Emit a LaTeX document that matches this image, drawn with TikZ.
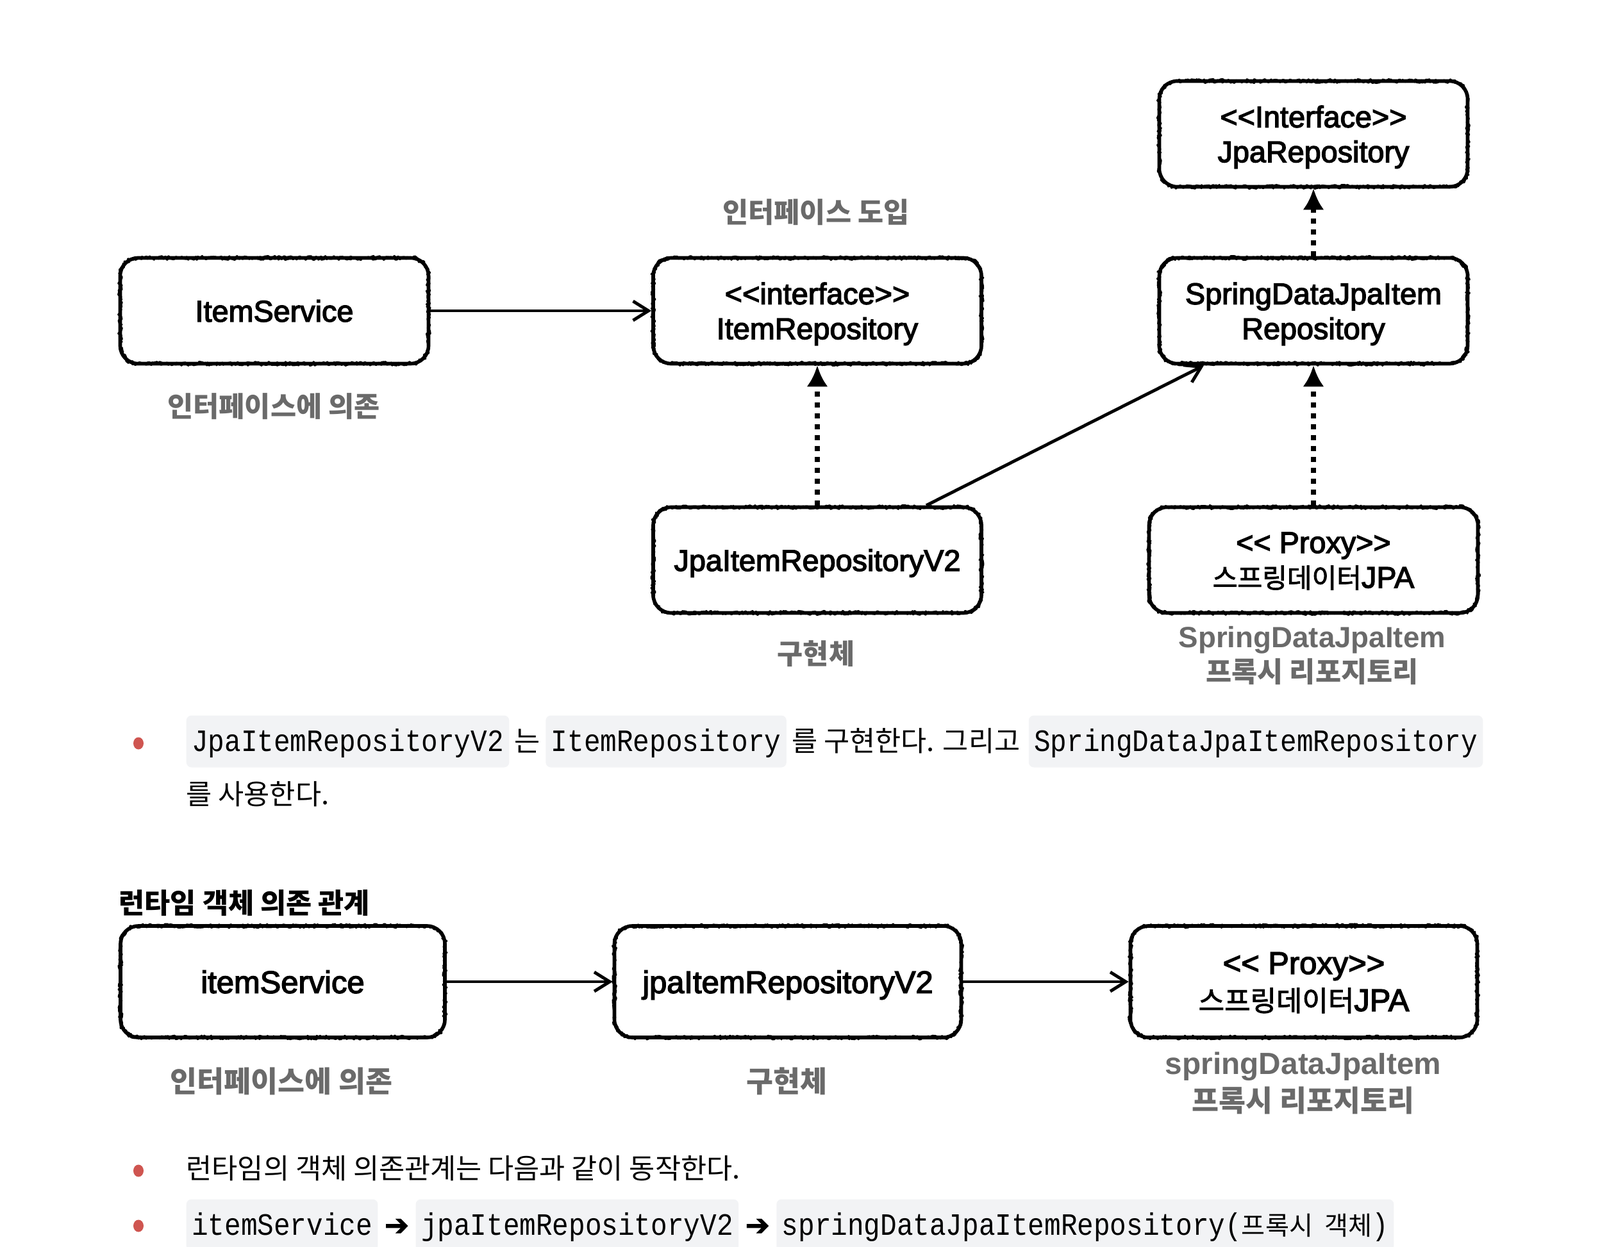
\documentclass[tikz,border=0pt]{standalone}
\usepackage{fontspec}
\setmainfont{Liberation Sans}
\newfontfamily\boxfont{Liberation Sans}[FakeBold=3]
\newfontfamily\kr{Noto Sans CJK KR}[Scale=0.955]
\newfontfamily\krbox{Noto Sans CJK KR}[Scale=0.9,FakeBold=2]
\newfontfamily\codefont{Liberation Mono}[FakeStretch=0.88]
\newfontfamily\symfont{DejaVu Sans}[FakeBold=2]
\usetikzlibrary{positioning,arrows.meta,decorations.pathmorphing,shapes.geometric}
\definecolor{labelgray}{HTML}{6A6A6A}
\definecolor{codebg}{HTML}{F2F3F5}
\definecolor{bulletred}{HTML}{CF5550}
\begin{document}
\begin{tikzpicture}[>={Straight Barb[length=2.4mm,width=3mm]},
    box/.style={draw, line width=1.6pt, rounded corners=0.28cm, align=center,
        inner sep=0pt, minimum width=4.81cm, minimum height=1.65cm, text depth=0pt,
        font=\boxfont\fontsize{13.3}{15.5}\selectfont,
        postaction={draw, sharp corners, line join=round, line width=1pt, decorate,
            decoration={random steps, segment length=0.6pt, amplitude=0.8pt}}},
    bigbox/.style={box, minimum width=5.41cm, minimum height=1.74cm,
        font=\boxfont\fontsize{13.9}{16.5}\selectfont},
    note/.style={align=center, text=labelgray, font=\bfseries\fontsize{13}{15.5}\selectfont},
    bignote/.style={note, font=\bfseries\fontsize{13.6}{16.5}\selectfont},
    dep/.style={->, line width=1.4pt},
    impl/.style={-{Latex[length=3.3mm,width=3.3mm]}, line width=2.2pt,
        dash pattern=on 0.08cm off 0.09cm},
    code/.style={fill=codebg, rounded corners=0.08cm, inner xsep=0.085cm,
        inner ysep=0pt, minimum height=0.81cm, text height=3.8mm, text depth=0.7mm,
        font=\codefont\fontsize{13.8}{15}\selectfont},
    txt/.style={inner xsep=0pt, inner ysep=0pt, text height=3.8mm, text depth=0.7mm,
        font=\kr\fontsize{13}{15}\selectfont},
    dot/.style={ellipse, fill=bulletred, inner sep=0pt, minimum width=0.16cm,
        minimum height=0.19cm}]
    \useasboundingbox (0,0) rectangle (24.96,-19.46);

    % 1. 인터페이스 도입
    \node[box] (svc) at (4.28,-4.85) {ItemService};
    \node[box, minimum width=5.12cm] (irepo) at (12.75,-4.85) {<<interface>>\\ItemRepository};
    \node[box] (sdrepo) at (20.49,-4.85) {SpringDataJpaItem\\Repository};
    \node[box] (jparepo) at (20.49,-2.09) {<<Interface>>\\JpaRepository};
    \node[box, minimum width=5.12cm] (v2) at (12.75,-8.74) {JpaItemRepositoryV2};
    \node[box, minimum width=5.13cm] (proxy) at (20.49,-8.74) {<< Proxy>>\\{\krbox 스프링데이터}JPA};

    \node[note] (intro) at (12.73,-3.31) {\kr 인터페이스 도입};
    \node[note] (svcnote) at (4.27,-6.34) {\kr 인터페이스에 의존};
    \node[note] (v2note) at (12.73,-10.20) {\kr 구현체};
    \node[note] (proxynote) at (20.47,-10.23) {SpringDataJpaItem\\{\kr 프록시 리포지토리}};

    \draw[dep] (svc) -- (irepo);
    \draw[impl] (v2) -- (irepo);
    \draw[dep] ([xshift=1.7cm]v2.north) -- ([xshift=-1.71cm]sdrepo.south);
    \draw[impl] (proxy) -- (sdrepo);
    \draw[impl] (sdrepo) -- (jparepo);

    % 2. 설명
    \node[dot] (b1) at (2.16,-11.60) {};
    \node[code, anchor=west] (c1) at (2.90,-11.57) {JpaItemRepositoryV2};
    \node[txt, right=0.07cm of c1] (t1) {는};
    \node[code, right=0.07cm of t1] (c2) {ItemRepository};
    \node[txt, right=0.07cm of c2] (t2) {를 구현한다. 그리고};
    \node[code, right=0.12cm of t2] (c3) {SpringDataJpaItemRepository};
    \node[txt, anchor=west] (t3) at (2.90,-12.40) {를 사용한다.};

    % 3. 런타임 객체 의존 관계
    \node[anchor=west, inner sep=0pt, font=\kr\bfseries\fontsize{13}{15}\selectfont] (title) at (1.85,-14.09) {런타임 객체 의존 관계};
    \node[bigbox, minimum width=5.06cm] (svc2) at (4.41,-15.32) {itemService};
    \node[bigbox] (v2run) at (12.29,-15.32) {jpaItemRepositoryV2};
    \node[bigbox] (proxy2) at (20.34,-15.32) {<< Proxy>>\\{\krbox 스프링데이터}JPA};

    \node[bignote] (svc2note) at (4.39,-16.87) {\kr 인터페이스에 의존};
    \node[bignote] (v2runnote) at (12.27,-16.87) {\kr 구현체};
    \node[bignote] (proxy2note) at (20.33,-16.90) {springDataJpaItem\\{\kr 프록시 리포지토리}};

    \draw[dep] (svc2) -- (v2run);
    \draw[dep] (v2run) -- (proxy2);

    % 4. 설명
    \node[dot] (b2) at (2.16,-18.27) {};
    \node[txt, anchor=west] (t4) at (2.90,-18.24) {런타임의 객체 의존관계는 다음과 같이 동작한다.};
    \node[dot] (b3) at (2.16,-19.13) {};
    \node[code, anchor=west] (c4) at (2.90,-19.12) {itemService};
    \node[txt, right=0.09cm of c4, font=\symfont\fontsize{13}{14}\selectfont] (a1) {➔};
    \node[code, right=0.09cm of a1] (c5) {jpaItemRepositoryV2};
    \node[txt, right=0.09cm of c5, font=\symfont\fontsize{13}{14}\selectfont] (a2) {➔};
    \node[code, right=0.09cm of a2] (c6) {springDataJpaItemRepository({\kr\fontsize{12}{14}\selectfont 프록시~ 객체})};
\end{tikzpicture}
\end{document}
